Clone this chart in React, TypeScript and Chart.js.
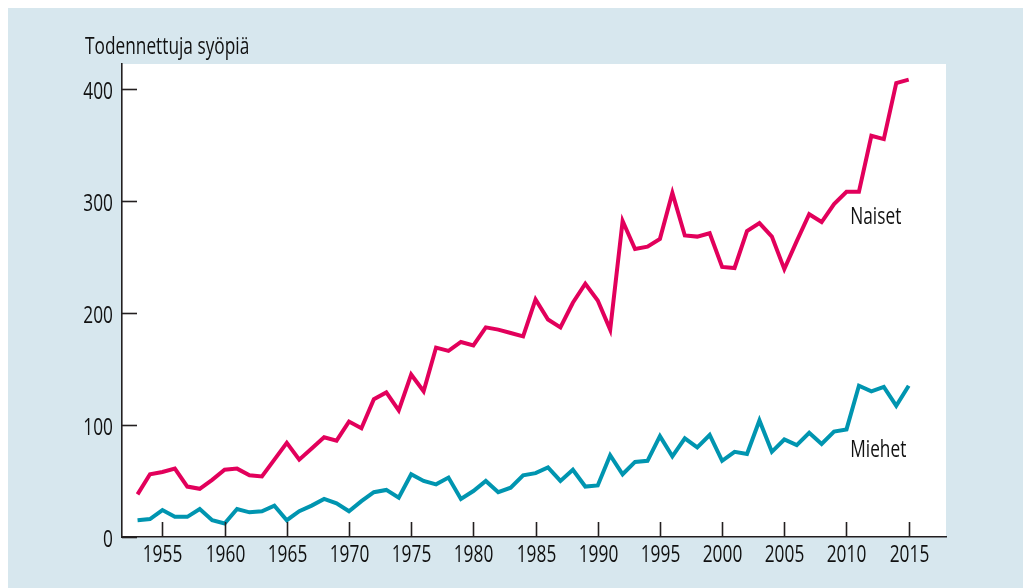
import React, { useEffect, useRef } from "react";
import { Chart, registerables } from "chart.js";

Chart.register(...registerables);

const years = [
  1953, 1954, 1955, 1956, 1957, 1958, 1959, 1960, 1961, 1962, 1963, 1964,
  1965, 1966, 1967, 1968, 1969, 1970, 1971, 1972, 1973, 1974, 1975, 1976,
  1977, 1978, 1979, 1980, 1981, 1982, 1983, 1984, 1985, 1986, 1987, 1988,
  1989, 1990, 1991, 1992, 1993, 1994, 1995, 1996, 1997, 1998, 1999, 2000,
  2001, 2002, 2003, 2004, 2005, 2006, 2007, 2008, 2009, 2010, 2011, 2012,
  2013, 2014, 2015,
];

const naiset = [
  38, 56, 58, 61, 45, 43, 51, 60, 61, 55, 54, 69,
  84, 69, 79, 89, 86, 103, 97, 123, 129, 113, 145, 130,
  169, 166, 174, 171, 187, 185, 182, 179, 212, 194, 187, 209,
  226, 211, 185, 282, 257, 259, 266, 307, 269, 268, 271, 241,
  240, 273, 280, 268, 239, 264, 288, 281, 297, 308, 308, 358,
  355, 405, 408,
];

const miehet = [
  15, 16, 24, 18, 18, 25, 15, 12, 25, 22, 23, 28,
  15, 23, 28, 34, 30, 23, 32, 40, 42, 35, 56, 50,
  47, 53, 34, 41, 50, 40, 44, 55, 57, 62, 50, 60,
  45, 46, 73, 56, 67, 68, 90, 72, 88, 80, 91, 68,
  76, 74, 104, 76, 87, 82, 93, 83, 94, 96, 135, 130,
  134, 117, 135,
];

const xTickValues = [1955, 1960, 1965, 1970, 1975, 1980, 1985, 1990, 1995, 2000, 2005, 2010, 2015];
const yTickValues = [0, 100, 200, 300, 400];

const yAxisTitle = "Todennettuja syöpiä";
const seriesLabels = [
  { text: "Naiset", x: 2010.3, y: 279 },
  { text: "Miehet", x: 2010.3, y: 71 },
];

const FONT = '"Open Sans", "Noto Sans", sans-serif';
const FONT_SIZE = 24;
const SCALE_X = 0.72;
const BG = "#d7e7ee";
const AXIS = "#231f20";
const PINK = "#e2005b";
const TEAL = "#0095b0";
const TEXT = "#111111";

function drawText(ctx: any, text: string, x: number, y: number, align: string) {
  ctx.save();
  ctx.translate(x, y);
  ctx.scale(SCALE_X, 1);
  ctx.textAlign = align;
  ctx.textBaseline = "alphabetic";
  ctx.fillText(text, 0, 0);
  ctx.restore();
}

const decorPlugin = {
  id: "decor",
  beforeDraw(chart: any) {
    const { ctx, chartArea, width, height } = chart;
    ctx.save();
    ctx.fillStyle = BG;
    ctx.fillRect(0, 0, width, height);
    ctx.fillStyle = "#ffffff";
    ctx.fillRect(chartArea.left, chartArea.top, chartArea.right - chartArea.left, chartArea.bottom - chartArea.top);
    ctx.restore();
  },
  afterDraw(chart: any) {
    const { ctx, chartArea, scales } = chart;
    const xs = scales.x;
    const ys = scales.y;
    ctx.save();
    ctx.strokeStyle = AXIS;
    ctx.lineWidth = 1.6;
    const tl = 15;
    ctx.fillStyle = TEXT;
    ctx.font = `${FONT_SIZE}px ${FONT}`;
    yTickValues.forEach((v) => {
      const py = Math.round(ys.getPixelForValue(v)) + 0.5;
      ctx.beginPath();
      ctx.moveTo(chartArea.left, py);
      ctx.lineTo(chartArea.left + tl, py);
      ctx.stroke();
      drawText(ctx, String(v), chartArea.left - 9, py + 9, "right");
    });
    xTickValues.forEach((v) => {
      const px = Math.round(xs.getPixelForValue(v)) + 0.5;
      ctx.beginPath();
      ctx.moveTo(px, chartArea.bottom);
      ctx.lineTo(px, chartArea.bottom - tl);
      ctx.stroke();
      drawText(ctx, String(v), px, chartArea.bottom + 25, "center");
    });
    drawText(ctx, yAxisTitle, 77, 46, "left");
    seriesLabels.forEach((l) => {
      drawText(ctx, l.text, xs.getPixelForValue(l.x), ys.getPixelForValue(l.y), "left");
    });
    ctx.restore();
  },
};

export default function App() {
  const ref = useRef<HTMLCanvasElement | null>(null);
  useEffect(() => {
    if (!ref.current) return;
    const chart = new Chart(ref.current, {
      type: "line",
      data: {
        datasets: [
          {
            label: "Naiset",
            data: years.map((y, i) => ({ x: y, y: naiset[i] })),
            borderColor: PINK,
            borderWidth: 4,
            pointRadius: 0,
            tension: 0,
            fill: false,
          },
          {
            label: "Miehet",
            data: years.map((y, i) => ({ x: y, y: miehet[i] })),
            borderColor: TEAL,
            borderWidth: 4,
            pointRadius: 0,
            tension: 0,
            fill: false,
          },
        ],
      },
      options: {
        animation: false,
        responsive: false,
        devicePixelRatio: 1,
        layout: { padding: { left: 0, top: 56, right: 77, bottom: 0 } },
        plugins: {
          legend: { display: false },
          tooltip: { enabled: false },
          title: { display: false },
        },
        scales: {
          x: {
            type: "linear",
            min: 1951.75,
            max: 2018,
            grid: { display: false, drawTicks: false },
            border: { display: true, color: AXIS, width: 1.6 },
            afterBuildTicks: (scale: any) => {
              scale.ticks = xTickValues.map((v) => ({ value: v }));
            },
            afterFit: (scale: any) => {
              scale.height = 51;
            },
            ticks: { display: false },
          },
          y: {
            type: "linear",
            min: 0,
            max: 422,
            grid: { display: false, drawTicks: false },
            border: { display: true, color: AXIS, width: 1.6 },
            afterBuildTicks: (scale: any) => {
              scale.ticks = yTickValues.map((v) => ({ value: v }));
            },
            afterFit: (scale: any) => {
              scale.width = 114;
            },
            ticks: { display: false },
          },
        },
      },
      plugins: [decorPlugin],
    });
    return () => chart.destroy();
  }, []);
  return (
    <div style={{ position: "absolute", left: 8, top: 8, width: 1015, height: 580 }}>
      <canvas ref={ref} width={1015} height={580} style={{ display: "block" }} />
    </div>
  );
}
